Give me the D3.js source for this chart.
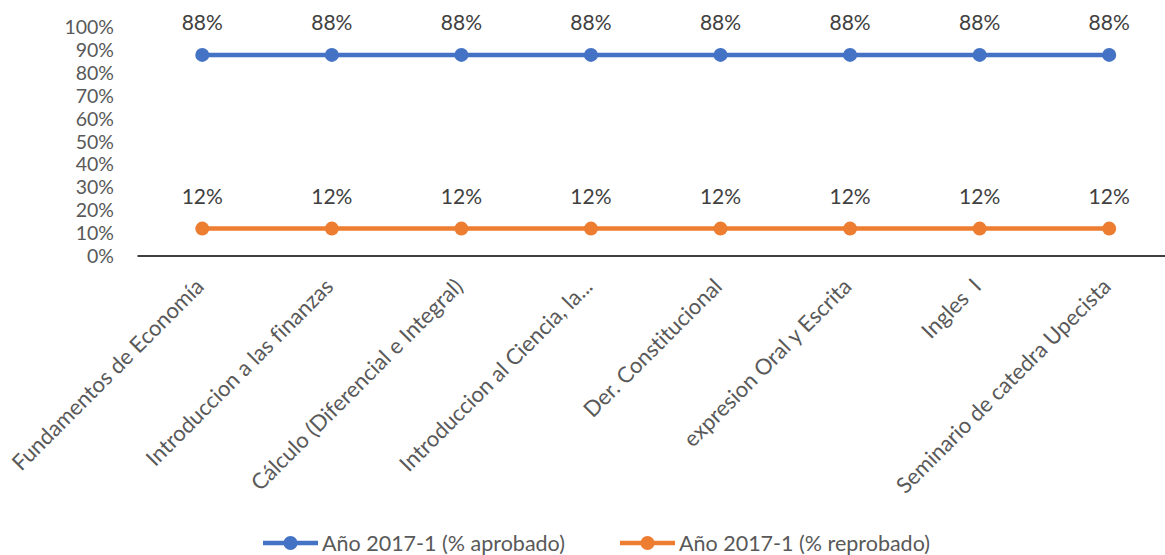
<!DOCTYPE html>
<html><head><meta charset="utf-8">
<script src="https://cdn.jsdelivr.net/npm/d3@7"></script>
<style>body{margin:0;background:#fff;} text{font-family:Lato,"Open Sans",sans-serif;font-variant-ligatures:none;}</style>
</head><body><svg id="c" width="1165" height="555"></svg>
<script>
const categories = ["Fundamentos de Economía","Introduccion a las finanzas","Cálculo (Diferencial e Integral)","Introduccion al Ciencia, la...","Der. Constitucional","expresion Oral y Escrita","Ingles  I","Seminario de catedra Upecista"];
const aprobado = [0.88,0.88,0.88,0.88,0.88,0.88,0.88,0.88];
const reprobado = [0.12,0.12,0.12,0.12,0.12,0.12,0.12,0.12];
const seriesNames = ["Año 2017-1 (% aprobado)","Año 2017-1 (% reprobado)"];
const yTicks = [0,0.1,0.2,0.3,0.4,0.5,0.6,0.7,0.8,0.9,1.0];
const colors = ["#4472C4","#ED7D31"];

const svg = d3.select("#c");
const x = d3.scaleBand().domain(categories).range([137.5,1174]);
const y = d3.scaleLinear().domain([0,1]).range([256,27.5]);
const fs = 21;

// y labels
svg.append("g").selectAll("text").data(yTicks).join("text")
  .attr("x",114).attr("y",d=>y(d)).attr("dy","0.35em")
  .attr("text-anchor","end").attr("fill","#595959").attr("font-size",19.5)
  .text(d=>d3.format(".0%")(d));

// axis line
svg.append("line").attr("x1",137.5).attr("x2",1165).attr("y1",y(0)).attr("y2",y(0))
  .attr("stroke","#000").attr("stroke-width",1.5);

// x labels
svg.append("g").selectAll("text").data(categories).join("text")
  .attr("transform",d=>`translate(${x(d)+x.bandwidth()/2+3},${y(0)+32}) rotate(-45)`)
  .attr("text-anchor","end").attr("fill","#595959").attr("font-size",22)
  .attr("xml:space","preserve")
  .text(d=>d);

const series = [aprobado, reprobado];
const line = d3.line().x((d,i)=>x(categories[i])+x.bandwidth()/2).y(d=>y(d));
series.forEach((s,k)=>{
  svg.append("path").datum(s).attr("d",line).attr("fill","none")
    .attr("stroke",colors[k]).attr("stroke-width",4.5).attr("stroke-linecap","round");
  svg.append("g").selectAll("circle").data(s).join("circle")
    .attr("cx",(d,i)=>x(categories[i])+x.bandwidth()/2).attr("cy",d=>y(d)).attr("r",7)
    .attr("fill",colors[k]);
  svg.append("g").selectAll("text").data(s).join("text")
    .attr("x",(d,i)=>x(categories[i])+x.bandwidth()/2).attr("y",d=>y(d)-32).attr("dy","0.35em")
    .attr("text-anchor","middle").attr("fill","#404040").attr("font-size",fs)
    .text(d=>d3.format(".0%")(d));
});

// legend
const legX = [263,620];
seriesNames.forEach((n,k)=>{
  const g = svg.append("g").attr("transform",`translate(${legX[k]},543)`);
  g.append("line").attr("x1",0).attr("x2",55).attr("stroke",colors[k]).attr("stroke-width",4.5);
  g.append("circle").attr("cx",27.5).attr("r",7).attr("fill",colors[k]);
  g.append("text").attr("x",59).attr("dy","0.35em").attr("fill","#595959").attr("font-size",21.5).text(n);
});
</script></body></html>
